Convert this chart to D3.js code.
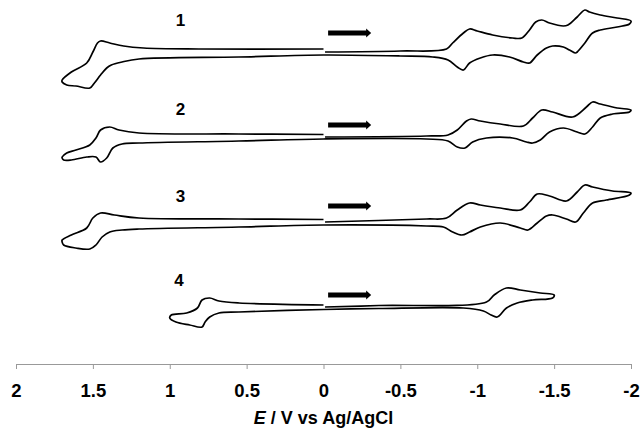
<!DOCTYPE html>
<html>
<head>
<meta charset="utf-8">
<script src="https://cdn.jsdelivr.net/npm/d3@7"></script>
<style>
  body { margin: 0; background: #fff; }
  text { font-family: "Liberation Sans", Arial, sans-serif; font-weight: bold; }
</style>
</head>
<body>
<svg width="643" height="429"></svg>
<script>
// potential (V vs Ag/AgCl) and current (arbitrary units, cathodic up)
// each scan: 0 V -> -2 V (top), back along the bottom to the anodic limit, then top back to 0 V

var labels = ["1", "2", "3", "4"];
var offsets = [312, 227, 142, 57];      // vertical offset of each voltammogram
var arrowI = [19, 12, 16, 12];          // current level of the scan-direction arrows
var labelE = [0.93, 0.93, 0.93, 0.94];
var labelI = [32, 28, 26, 27];

var E1 = [-0.01, -0.50, -0.80, -0.84, -0.91, -0.95, -1.00, -1.10, -1.23, -1.29, -1.34, -1.38, -1.42, -1.47, -1.56, -1.59, -1.65, -1.70, -1.73, -1.80, -1.91, -2.00,
          -1.99, -1.91, -1.80, -1.75, -1.70, -1.65, -1.64, -1.60, -1.56, -1.49, -1.45, -1.39, -1.34, -1.30, -1.21, -1.10, -1.02, -0.95, -0.91, -0.87, -0.81, -0.71, -0.50, 0,
          0.55, 1.20, 1.31, 1.38, 1.41, 1.45, 1.49, 1.52, 1.61, 1.67, 1.70,
          1.70, 1.64, 1.54, 1.50, 1.47, 1.45, 1.39, 1.30, 1.17, 0.81, 0];
var I1 = [0, 1, 3, 9, 19, 23, 21, 17, 14, 14, 22, 30, 32, 29, 26, 27, 35, 42, 40, 37, 34, 31,
          28, 25, 22, 19, 9, 0, -1, 2, 5, 6, 4, -3, -11, -10, -5, -3, -6, -11, -18, -15, -8, -5, -4, -3,
          -5, -7, -10, -13, -16, -23, -31, -36, -34, -33, -30,
          -28, -20, -11, 0, 9, 11, 9, 6, 4, 3, 3];

var E2 = [-0.01, -0.67, -0.81, -0.87, -0.93, -0.96, -1.02, -1.15, -1.30, -1.36, -1.42, -1.49, -1.62, -1.71, -1.75, -1.80, -1.91, -2.00,
          -1.99, -1.88, -1.80, -1.75, -1.70, -1.65, -1.56, -1.47, -1.41, -1.36, -1.32, -1.23, -1.06, -0.97, -0.92, -0.87, -0.81, -0.67, 0,
          0.55, 1.20, 1.31, 1.37, 1.41, 1.45, 1.48, 1.54, 1.64, 1.69, 1.70,
          1.70, 1.67, 1.61, 1.52, 1.48, 1.45, 1.39, 1.33, 1.20, 0.55, 0];
var I2 = [0, 1, 2, 7, 16, 18, 16, 13, 11, 19, 27, 25, 20, 30, 35, 33, 29, 27,
          25, 23, 19, 10, 3, 5, 9, 5, -3, -6, -5, -1, -1, -5, -11, -10, -4, -2, -2,
          -4, -6, -7, -11, -21, -25, -20, -20, -23, -23, -21,
          -20, -16, -13, -8, -1, 7, 10, 7, 4, 3, 2.5];

var E3 = [-0.01, -0.67, -0.80, -0.87, -0.95, -1.02, -1.15, -1.28, -1.34, -1.39, -1.47, -1.58, -1.65, -1.70, -1.75, -1.88, -2.00,
          -1.99, -1.84, -1.75, -1.69, -1.64, -1.58, -1.49, -1.45, -1.39, -1.33, -1.28, -1.15, -1.02, -0.95, -0.90, -0.84, -0.78, -0.67, 0,
          0.55, 1.20, 1.31, 1.39, 1.44, 1.48, 1.52, 1.61, 1.69, 1.70,
          1.70, 1.64, 1.54, 1.50, 1.45, 1.36, 1.20, 0.55, 0];
var I3 = [0, 3, 4, 12, 19, 17, 14, 12, 20, 28, 26, 21, 30, 37, 35, 31, 29,
          27, 22, 19, 9, 0, 3, 7, 6, -1, -8, -6, -1, -5, -10, -13, -10, -5, -4, -3,
          -5, -7, -8, -10, -15, -23, -27, -26, -23, -20,
          -18, -13, -6, 4, 9, 7, 4, 3, 2.5];

var E4 = [-0.01, -0.36, -1.06, -1.11, -1.19, -1.28, -1.41, -1.50,
          -1.49, -1.36, -1.26, -1.19, -1.13, -1.09, -1.04, -0.91, -0.36, 0,
          0.55, 0.68, 0.74, 0.77, 0.79, 0.87, 0.96, 1.00,
          0.99, 0.89, 0.82, 0.79, 0.74, 0.68, 0.55, 0];
var I4 = [0, 1.5, 5, 12, 19, 17, 14, 12,
          9, 7, 4, -1, -10, -8, -4, -1, -1.5, -2.5,
          -5, -6, -10, -15, -20, -18, -15, -11,
          -8, -6, -1, 7, 9, 6, 4, 2];

var xTicks = [2, 1.5, 1, 0.5, 0, -0.5, -1, -1.5, -2];

var series = [[E1, I1], [E2, I2], [E3, I3], [E4, I4]];

var svg = d3.select("svg");

var x = d3.scaleLinear().domain([2, -2]).range([16, 631]);
var y = d3.scaleLinear().domain([0, 364]).range([364, 0]);

var line = d3.line()
    .x(function (d) { return x(d[0]); })
    .y(function (d) { return y(d[1]); })
    .curve(d3.curveCatmullRom.alpha(0.5));

//Draw the voltammograms
series.forEach(function (s, k) {
    var pts = s[0].map(function (e, i) { return [e, s[1][i] + offsets[k]]; });
    svg.append("path")
        .attr("d", line(pts))
        .attr("fill", "none")
        .attr("stroke", "#000")
        .attr("stroke-width", 1.7)
        .attr("stroke-linejoin", "round");

    //scan direction arrow
    var ay = y(arrowI[k] + offsets[k]);
    var x0 = x(-0.03), x1 = x(-0.31);
    svg.append("path")
        .attr("d", "M" + x0 + "," + (ay - 2.5) + "H" + (x1 - 5) + "V" + (ay - 4.5) +
            "L" + x1 + "," + ay + "L" + (x1 - 5) + "," + (ay + 4.5) + "V" + (ay + 2.5) + "H" + x0 + "Z")
        .attr("fill", "#000");

    svg.append("text")
        .attr("x", x(labelE[k]))
        .attr("y", y(labelI[k] + offsets[k]))
        .attr("dy", "0.36em")
        .attr("text-anchor", "middle")
        .attr("font-size", 17)
        .text(labels[k]);
});

//x axis
var axis = svg.append("g")
    .attr("transform", "translate(0,364)")
    .call(d3.axisBottom(x).tickValues(xTicks).tickSize(5).tickSizeOuter(0)
        .tickFormat(function (d) { return String(d); }));
axis.select(".domain").attr("stroke", "#999");
axis.selectAll(".tick line").attr("stroke", "#999");
axis.selectAll(".tick text")
    .attr("y", 33).attr("dy", null)
    .attr("fill", "#000")
    .style("font-family", "Liberation Sans, Arial, sans-serif")
    .style("font-weight", "bold")
    .style("font-size", "18.5px");

var title = svg.append("text")
    .attr("x", x(0))
    .attr("y", 424)
    .attr("text-anchor", "middle")
    .attr("font-size", 18);
title.append("tspan").attr("font-style", "italic").text("E");
title.append("tspan").text(" / V vs Ag/AgCl");
</script>
</body>
</html>
